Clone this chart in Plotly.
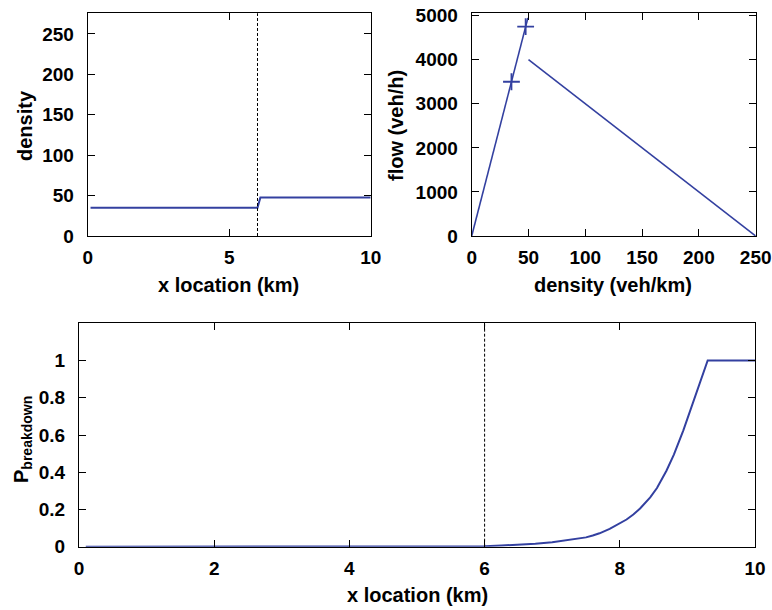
import plotly.graph_objects as go

W, H = 772, 610

# ---- data ----
x_density = [0.1, 6.0, 6.1, 10.0]
density = [35, 35, 47.5, 47.5]
bottleneck_x = 6.0

fd_free_k = [0, 49.5]
fd_free_q = [0, 4950]
fd_cong_k = [50, 250]
fd_cong_q = [4000, 0]
state_k = [35, 47.5]
state_q = [3500, 4750]

p_x = [0.1, 1, 2, 3, 4, 5, 5.5, 6, 6.25, 6.5, 6.75, 7, 7.25, 7.5, 7.6, 7.7, 7.85,
       8.0, 8.1, 8.2, 8.3, 8.45, 8.55, 8.69, 8.8, 8.94, 9.05, 9.19, 9.3, 10]
p_val = [0, 0, 0, 0, 0, 0.0005, 0.001, 0.003, 0.006, 0.010, 0.016, 0.024, 0.035,
         0.050, 0.060, 0.072, 0.096, 0.124, 0.146, 0.173, 0.205, 0.265, 0.315,
         0.408, 0.495, 0.625, 0.740, 0.896, 1.0, 1.0]

# ---- style ----
BLUE = "#3340a0"
FONT = "Liberation Sans, Arial, Helvetica, sans-serif"


def px_x(p):
    return p / W


def px_y(p):
    return 1 - p / H


fig = go.Figure()

# top-left: density profile
fig.add_trace(go.Scatter(x=x_density, y=density, mode="lines",
                         line=dict(color=BLUE, width=2), xaxis="x", yaxis="y",
                         showlegend=False))
fig.add_trace(go.Scatter(x=[bottleneck_x, bottleneck_x], y=[0, 276], mode="lines",
                         line=dict(color="black", width=1, dash="3px,2px"),
                         xaxis="x", yaxis="y", showlegend=False))

# top-right: fundamental diagram
fig.add_trace(go.Scatter(x=fd_free_k, y=fd_free_q, mode="lines",
                         line=dict(color=BLUE, width=1.6), xaxis="x2", yaxis="y2",
                         showlegend=False))
fig.add_trace(go.Scatter(x=fd_cong_k, y=fd_cong_q, mode="lines",
                         line=dict(color=BLUE, width=1.6), xaxis="x2", yaxis="y2",
                         showlegend=False))
fig.add_trace(go.Scatter(x=state_k, y=state_q, mode="markers",
                         marker=dict(symbol="cross-thin", size=12,
                                     line=dict(color=BLUE, width=1.8)),
                         xaxis="x2", yaxis="y2", showlegend=False))

# bottom: breakdown probability
fig.add_trace(go.Scatter(x=p_x, y=p_val, mode="lines", line=dict(color=BLUE, width=2),
                         xaxis="x3", yaxis="y3", showlegend=False))
fig.add_trace(go.Scatter(x=[bottleneck_x, bottleneck_x], y=[0, 1.2], mode="lines",
                         line=dict(color="black", width=1, dash="3px,2px"),
                         xaxis="x3", yaxis="y3", showlegend=False))

tickfont = dict(family=FONT, size=19, color="black", weight="bold")


def ax(domain, rng, dtick, anchor, xaxis=True):
    d = dict(domain=domain, range=rng, dtick=dtick, tick0=0, anchor=anchor,
             showgrid=False, zeroline=False, showline=True, linecolor="black",
             linewidth=1, mirror="ticks", ticks="inside", ticklen=7, tickwidth=1,
             tickcolor="black", tickfont=tickfont, automargin=False, fixedrange=True)
    d["ticklabelstandoff"] = 4 if xaxis else 9
    return d


fig.update_layout(
    width=W, height=H, margin=dict(l=0, r=0, t=0, b=0),
    paper_bgcolor="white", plot_bgcolor="white",
    xaxis=ax([px_x(87.7), px_x(370.7)], [0, 10], 5, "y"),
    yaxis=ax([px_y(236), px_y(13.3)], [0, 275.6], 50, "x", False),
    xaxis2=ax([px_x(471.7), px_x(755.7)], [0, 250], 50, "y2"),
    yaxis2=ax([px_y(236), px_y(13.3)], [0, 5053], 1000, "x2", False),
    xaxis3=ax([px_x(79), px_x(755)], [0, 10], 2, "y3"),
    yaxis3=ax([px_y(546.7), px_y(323.3)], [0, 1.2], 0.2, "x3", False),
)
fig.layout.yaxis3.tickvals = [0, 0.2, 0.4, 0.6, 0.8, 1]
fig.layout.yaxis3.ticktext = ["0", "0.2", "0.4", "0.6", "0.8", "1"]

titlefont = dict(family=FONT, size=20, color="black", weight="bold")
annots = [
    ("density", 25, 125, -90),
    ("x location (km)", 228, 285, 0),
    ("flow (veh/h)", 396, 126, -90),
    ("density (veh/km)", 613, 285, 0),
    ("P<sub>breakdown</sub>", 22, 440, -90),
    ("x location (km)", 417, 595, 0),
]
for text, x, y, ang in annots:
    fig.add_annotation(text=text, x=px_x(x), y=px_y(y), xref="paper", yref="paper",
                       xanchor="center", yanchor="middle", showarrow=False,
                       textangle=ang, font=titlefont)

fig.write_html("out.html")
